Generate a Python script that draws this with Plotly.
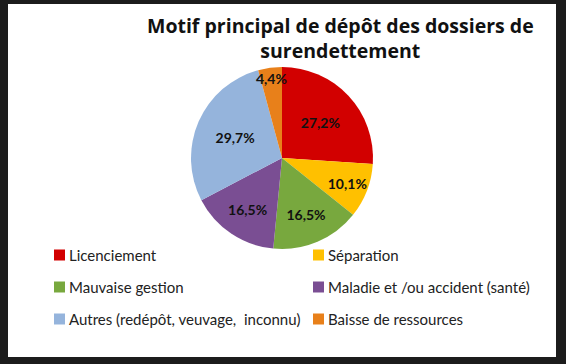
import plotly.graph_objects as go

# Data
labels = ["Licenciement", "Séparation", "Mauvaise gestion",
          "Maladie et /ou accident (santé)", "Autres (redépôt, veuvage,  inconnu)",
          "Baisse de ressources"]
values = [27.2, 10.1, 16.5, 16.5, 29.7, 4.4]
value_labels = ["27,2%", "10,1%", "16,5%", "16,5%", "29,7%", "4,4%"]
colors = ["#D20000", "#FFC000", "#78A83E", "#7A4E93", "#95B4DC", "#E8801A"]
title_text = "<b>Motif principal de dépôt des dossiers de<br>surendettement</b>"

W, H = 566, 364

fig = go.Figure()
fig.add_trace(go.Pie(
    labels=labels,
    values=values,
    text=["<b>%s</b>" % t for t in value_labels],
    textinfo="text",
    textposition="inside",
    insidetextorientation="horizontal",
    textfont=dict(family="Lato, sans-serif", size=14, color="#111111"),
    marker=dict(colors=colors, line=dict(width=0)),
    sort=False,
    direction="clockwise",
    rotation=0,
    showlegend=False,
    domain=dict(x=[191 / W, 373 / W], y=[1 - 249 / H, 1 - 67 / H]),
    hoverinfo="label+text",
))

shapes = [dict(type="rect", xref="paper", yref="paper",
               x0=8 / W, x1=556 / W, y0=1 - 357 / H, y1=1 - 4 / H,
               fillcolor="white", line=dict(width=0), layer="below")]
annotations = []

# Manual legend: 2 columns, 3 rows
col_x = [54, 313]
row_y = [255, 287, 319]
sq = 11
for i, (lab, col) in enumerate(zip(labels, colors)):
    cx = col_x[i % 2]
    cy = row_y[i // 2]
    shapes.append(dict(type="rect", xref="paper", yref="paper",
                       x0=cx / W, x1=(cx + sq) / W,
                       y0=1 - (cy + sq / 2) / H, y1=1 - (cy - sq / 2) / H,
                       fillcolor=col, line=dict(width=0)))
    annotations.append(dict(text=lab, xref="paper", yref="paper",
                            x=(cx + sq + 2) / W, y=1 - cy / H,
                            xanchor="left", yanchor="middle", showarrow=False,
                            font=dict(family="Lato, sans-serif", size=15, color="#222222")))

annotations.append(dict(text=title_text, xref="paper", yref="paper",
                        x=340 / W, y=1 - 10 / H, xanchor="center", yanchor="top",
                        showarrow=False, align="center",
                        font=dict(family="Open Sans, sans-serif", size=19.5, color="#111111")))

fig.update_layout(
    width=W, height=H,
    margin=dict(l=0, r=0, t=0, b=0),
    paper_bgcolor="#1c1c1c",
    plot_bgcolor="#1c1c1c",
    shapes=shapes,
    annotations=annotations,
    uniformtext=dict(minsize=14, mode="show"),
)

fig.write_html(
    "out.html",
    config={"displayModeBar": False},
    post_script="document.body.style.margin='0';document.body.style.background='#1c1c1c';document.body.style.overflow='hidden';",
)
